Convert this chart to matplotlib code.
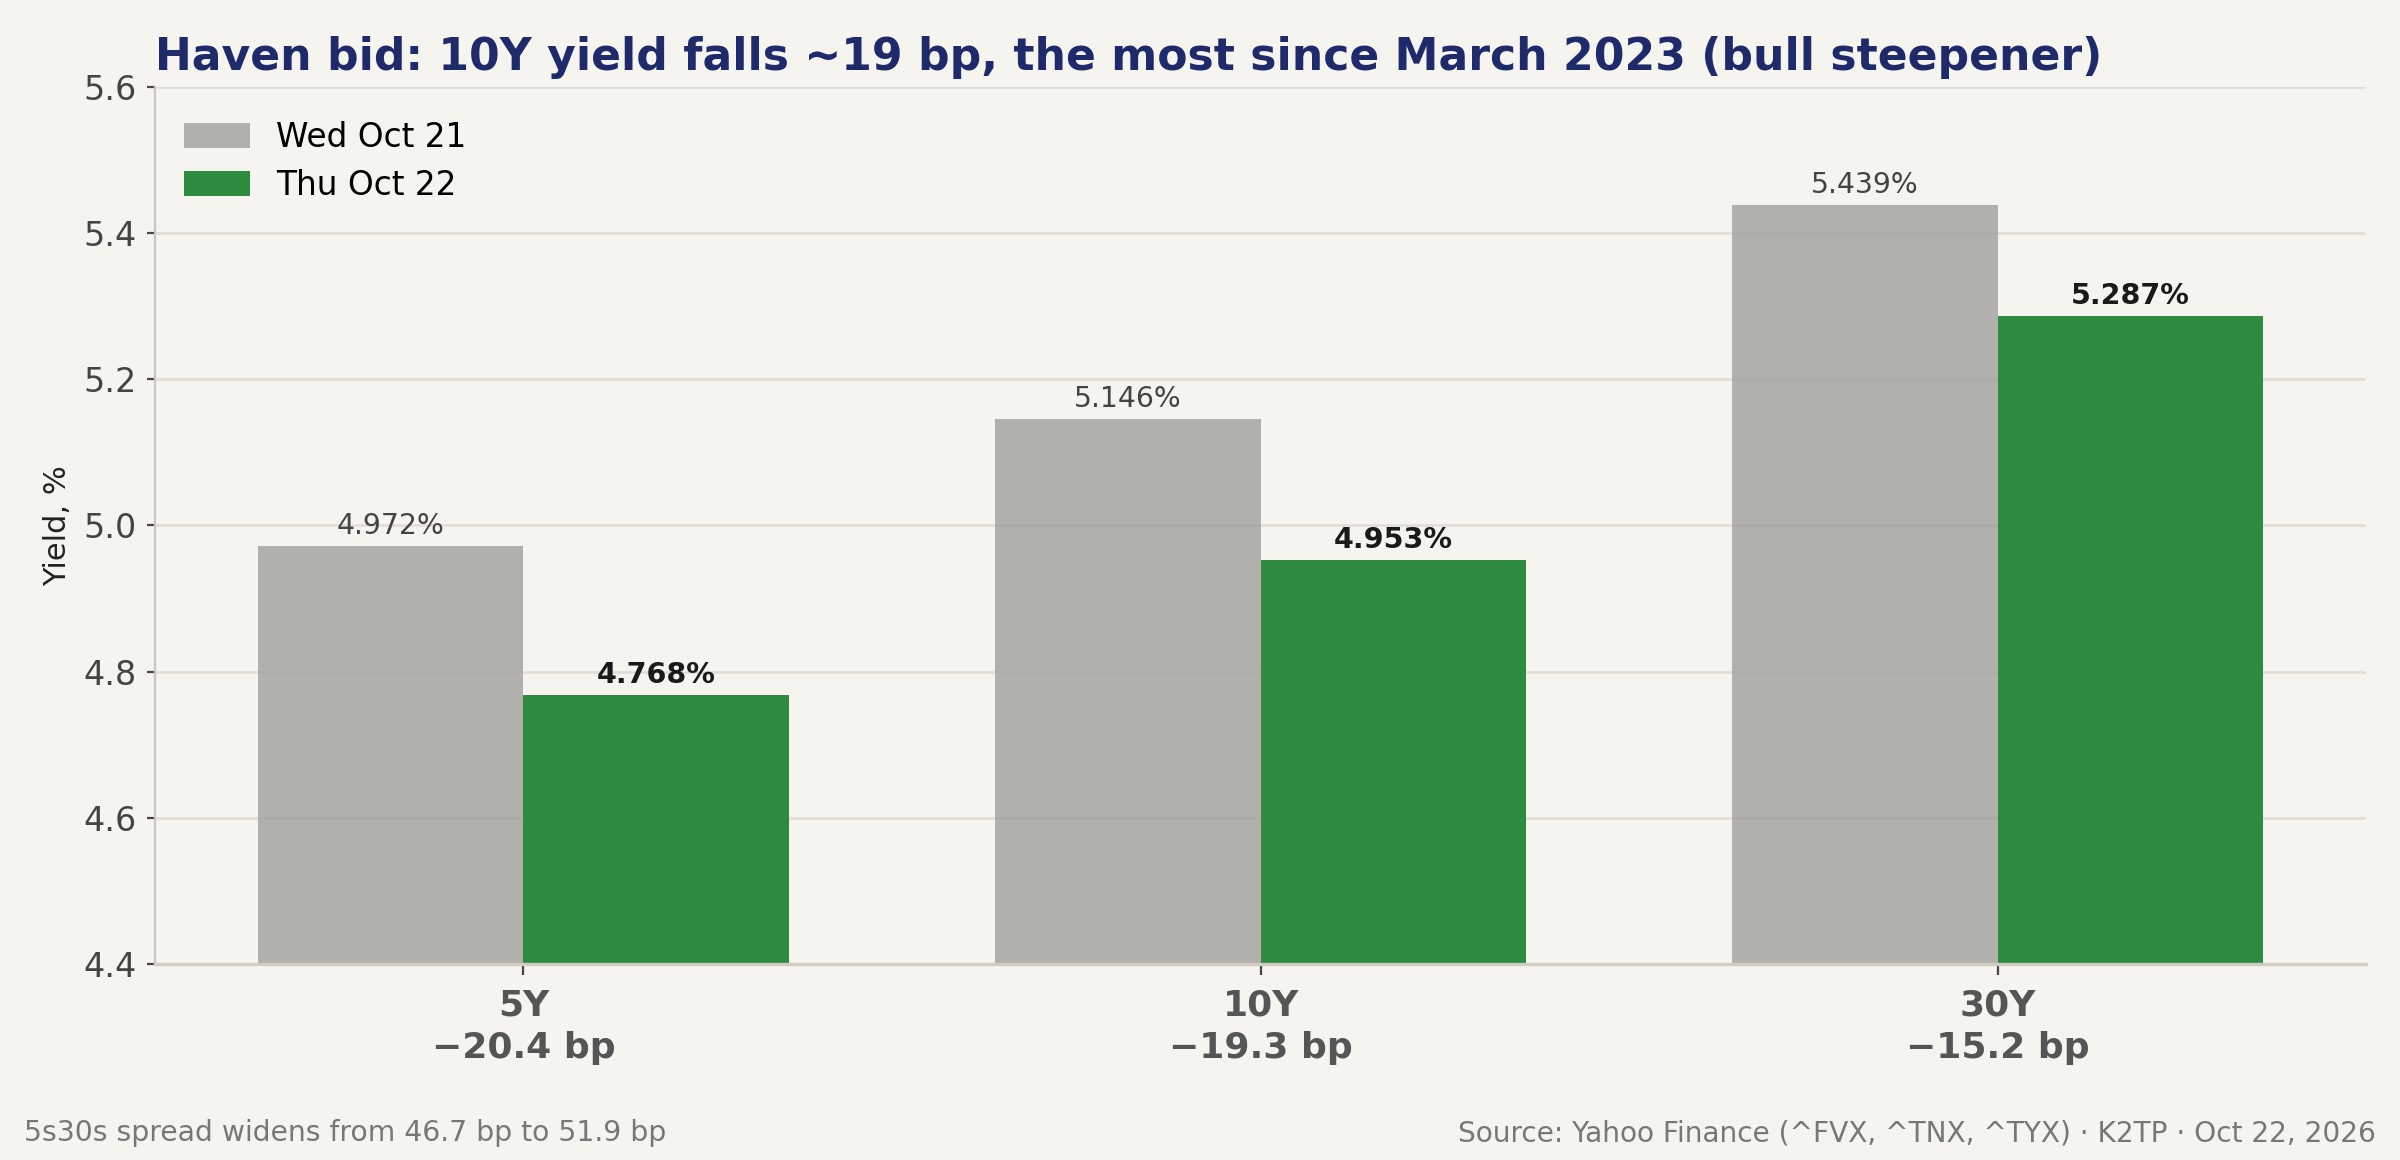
import numpy as np
import matplotlib.pyplot as plt

# Data
tenors = ['5Y', '10Y', '30Y']
changes = ['\u221220.4 bp', '\u221219.3 bp', '\u221215.2 bp']
wed = [4.972, 5.146, 5.439]
thu = [4.768, 4.953, 5.287]
yticks = [4.4, 4.6, 4.8, 5.0, 5.2, 5.4, 5.6]

bg = '#f5f4ef'
grey = '#a5a4a2'
green = '#2e8b40'

fig = plt.figure(figsize=(12, 5.8), dpi=200, facecolor=bg)
ax = fig.add_axes([0.0645, 0.169, 0.9215, 0.756])
ax.set_facecolor(bg)

x = np.arange(len(tenors))
w = 0.36
b1 = ax.bar(x - w / 2, wed, w, color=grey, alpha=0.85, label='Wed Oct 21', zorder=2)
b2 = ax.bar(x + w / 2, thu, w, color=green, label='Thu Oct 22', zorder=2)

# value labels
for rect, v in zip(b1, wed):
    ax.text(rect.get_x() + rect.get_width() / 2, v + 0.008, f'{v:.3f}%',
            ha='center', va='bottom', fontsize=10.2, color='#444444')
for rect, v in zip(b2, thu):
    ax.text(rect.get_x() + rect.get_width() / 2, v + 0.008, f'{v:.3f}%',
            ha='center', va='bottom', fontsize=10.3, color='#1a1a1a', fontweight='bold')

ax.set_ylim(4.4, 5.6)
ax.set_xlim(-0.5, 2.5)
ax.set_yticks(yticks)
ax.set_yticklabels([f'{t:.1f}' for t in yticks])
ax.set_xticks(x)
ax.set_xticklabels([f'{t}\n{c}' for t, c in zip(tenors, changes)],
                   fontsize=13, fontweight='bold', color='#555555', linespacing=1.3)
ax.tick_params(axis='y', labelsize=12, colors='#444444', length=3, color='#444444')
ax.tick_params(axis='x', length=4, color='#444444', pad=5)
ax.set_ylabel('Yield, %', fontsize=11, color='#222222')

ax.grid(axis='y', color='#e0ddd6', linewidth=0.9, zorder=0)
ax.set_axisbelow(True)
for s in ['top', 'right']:
    ax.spines[s].set_visible(False)
ax.spines['left'].set_color('#c8c6c0')
ax.spines['bottom'].set_color('#d0ccc4')
ax.spines['bottom'].set_linewidth(1.2)

leg = ax.legend(loc='upper left', frameon=False, fontsize=11.8, handlelength=2.0,
                handleheight=0.8, labelspacing=0.45, bbox_to_anchor=(0.0, 0.995))

fig.text(0.0645, 0.94, 'Haven bid: 10Y yield falls ~19 bp, the most since March 2023 (bull steepener)',
         fontsize=15.9, fontweight='bold', color='#1f2a6b', ha='left', va='baseline')
fig.text(0.01, 0.016, '5s30s spread widens from 46.7 bp to 51.9 bp',
         fontsize=10.2, color='#777777', ha='left', va='baseline')
fig.text(0.99, 0.016, 'Source: Yahoo Finance (^FVX, ^TNX, ^TYX) \u00b7 K2TP \u00b7 Oct 22, 2026',
         fontsize=10.1, color='#777777', ha='right', va='baseline')

fig.savefig('out.png', dpi=200, facecolor=bg)
